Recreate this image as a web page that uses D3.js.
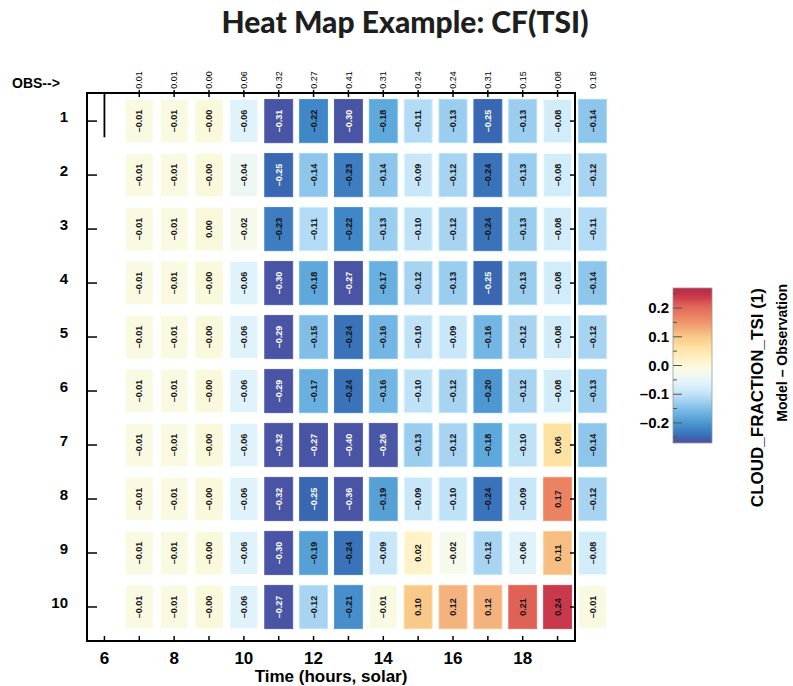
<!DOCTYPE html>
<html>
  <head>
    <meta charset="utf-8">
    <script src="https://cdn.jsdelivr.net/npm/d3@7"></script>
    <style>
      body { margin: 0; background: white; }
      svg { display: block; }
      text { font-family: "Liberation Sans", Arial, sans-serif; }
    </style>
  </head>
  <body>
    <script>
      // hours of the day shown as columns, plus a mean column drawn outside the frame
      const hours = [7, 8, 9, 10, 11, 12, 13, 14, 15, 16, 17, 18, 19]
      const meanHour = 20
      const rows = [1, 2, 3, 4, 5, 6, 7, 8, 9, 10]
      const xTickLabels = [6, 8, 10, 12, 14, 16, 18]
      const legendTicks = [-0.2, -0.1, 0.0, 0.1, 0.2]
      const legendMinorTicks = [-0.25, -0.15, -0.05, 0.05, 0.15, 0.25]

      // observed value per hour, and the mean of them
      const obs = [0.01, 0.01, 0.00, 0.06, 0.32, 0.27, 0.41, 0.31, 0.24, 0.24, 0.31, 0.15, 0.08]
      const obsMean = 0.18

      // model - observation, one list per row (13 hours)
      const diffs = [
        [-0.01, -0.01, -0.00, -0.06, -0.31, -0.22, -0.30, -0.18, -0.11, -0.13, -0.25, -0.13, -0.08],
        [-0.01, -0.01, -0.00, -0.04, -0.25, -0.14, -0.23, -0.14, -0.09, -0.12, -0.24, -0.13, -0.08],
        [-0.01, -0.01, 0.00, -0.02, -0.23, -0.11, -0.22, -0.13, -0.10, -0.12, -0.24, -0.13, -0.08],
        [-0.01, -0.01, -0.00, -0.06, -0.30, -0.18, -0.27, -0.17, -0.12, -0.13, -0.25, -0.13, -0.08],
        [-0.01, -0.01, -0.00, -0.06, -0.29, -0.15, -0.24, -0.16, -0.10, -0.09, -0.16, -0.12, -0.08],
        [-0.01, -0.01, -0.00, -0.06, -0.29, -0.17, -0.24, -0.16, -0.10, -0.12, -0.20, -0.12, -0.08],
        [-0.01, -0.01, -0.00, -0.06, -0.32, -0.27, -0.40, -0.26, -0.13, -0.12, -0.18, -0.10, 0.06],
        [-0.01, -0.01, -0.00, -0.06, -0.32, -0.25, -0.36, -0.19, -0.09, -0.10, -0.24, -0.09, 0.17],
        [-0.01, -0.01, -0.00, -0.06, -0.30, -0.19, -0.24, -0.09, 0.02, -0.02, -0.12, -0.06, 0.11],
        [-0.01, -0.01, -0.00, -0.06, -0.27, -0.12, -0.21, -0.01, 0.10, 0.12, 0.12, 0.21, 0.24]
      ]
      // row means (extra column)
      const rowMeans = [-0.14, -0.12, -0.11, -0.14, -0.12, -0.13, -0.14, -0.12, -0.08, -0.01]

      const W = 793, H = 686
      const svg = d3.select('body').append('svg').attr('width', W).attr('height', H)

      const x = d3.scaleLinear().domain([5.5, 19.5]).range([87, 575])
      const y = d3.scaleLinear().domain([0.48, 10.63]).range([93, 641])
      const cellW = (x(1) - x(0)) * 0.8
      const cellH = (y(1) - y(0)) * 0.8

      const color = d3.scaleLinear()
        .domain([-0.27, -0.26, -0.25, -0.24, -0.22, -0.20, -0.18, -0.16, -0.14, -0.12, -0.10, -0.08,
                 -0.06, -0.04, -0.02, -0.01, 0.00, 0.02, 0.06, 0.10, 0.12, 0.17, 0.21, 0.24, 0.27])
        .range(['#4a54a4', '#4a56a6', '#3a67b2', '#3a73b9', '#3f87c6', '#4f97d0', '#5fa8dc', '#74b6e3',
                '#8ec5eb', '#a8d4f2', '#c0e2f7', '#d3ecfa', '#e1f3fa', '#eef8f3', '#f5faea', '#fafae2',
                '#fbf9dc', '#fff2c9', '#fde2a3', '#f9c98a', '#f4b37e', '#eb8363', '#df6256', '#c9394c',
                '#b82a45'])
        .clamp(true)

      function fmt(v) {
        const neg = v < 0 || Object.is(v, -0)
        return (neg ? '\u2013' : '') + Math.abs(v).toFixed(2)
      }

      // title
      svg.append('text')
        .attr('x', 405).attr('y', 33)
        .attr('text-anchor', 'middle')
        .style('font-family', 'Lato, sans-serif')
        .style('font-weight', 900)
        .style('font-size', '30px')
        .attr('fill', '#1e1e1e')
        .text('Heat Map Example: CF(TSI)')

      // cells
      const cells = []
      rows.forEach((r, i) => {
        hours.forEach((h, j) => cells.push({h, r, v: diffs[i][j]}))
        cells.push({h: meanHour, r, v: rowMeans[i]})
      })

      const g = svg.append('g')
      g.selectAll('rect.cell').data(cells).join('rect')
        .attr('class', 'cell')
        .attr('x', d => x(d.h) - cellW / 2)
        .attr('y', d => y(d.r) - cellH / 2)
        .attr('width', cellW)
        .attr('height', cellH)
        .attr('fill', d => color(d.v))
        .attr('stroke', d => d3.color(color(d.v)).brighter(0.25))
        .attr('stroke-width', 1)

      g.selectAll('text.cell').data(cells).join('text')
        .attr('class', 'cell')
        .attr('transform', d => `translate(${x(d.h)},${y(d.r)}) rotate(-90)`)
        .attr('dy', '0.35em')
        .attr('text-anchor', 'middle')
        .style('font-size', '9px')
        .style('font-weight', 'bold')
        .attr('fill', d => d.v <= -0.25 ? 'white' : '#111')
        .text(d => fmt(d.v))

      // OBS row on top
      const obsData = hours.map((h, j) => ({h, v: obs[j]})).concat([{h: meanHour, v: obsMean}])
      svg.selectAll('text.obs').data(obsData).join('text')
        .attr('class', 'obs')
        .attr('transform', d => `translate(${x(d.h)},80) rotate(-90)`)
        .attr('dy', '0.35em')
        .attr('text-anchor', 'middle')
        .style('font-size', '9px')
        .text(d => fmt(d.v))

      svg.append('text')
        .attr('x', 12).attr('y', 88)
        .style('font-size', '14px')
        .style('font-weight', 'bold')
        .text('OBS-->')

      // frame
      const axisG = svg.append('g').attr('stroke', 'black').attr('fill', 'none')
      axisG.append('path')
        .attr('d', `M${x(5.5)},${y(0.48)}H${x(19.5)}V${y(10.63)}H${x(5.5)}Z`)
        .attr('stroke-width', 2)

      // bottom ticks (inward) at each hour
      const allHours = d3.range(6, 20)
      axisG.selectAll('line.bt').data(allHours).join('line')
        .attr('x1', d => x(d)).attr('x2', d => x(d))
        .attr('y1', y(10.63)).attr('y2', y(10.63) - 5)
        .attr('stroke-width', 1.5)
      // top ticks
      axisG.selectAll('line.tt').data(hours).join('line')
        .attr('x1', d => x(d)).attr('x2', d => x(d))
        .attr('y1', y(0.48) - 3).attr('y2', y(0.48) + 4)
        .attr('stroke-width', 1.5)
      // the long mark at hour 6 along the top
      axisG.append('line')
        .attr('x1', x(6)).attr('x2', x(6))
        .attr('y1', y(0.48)).attr('y2', y(1.3))
        .attr('stroke-width', 1.8)
      // left and right ticks
      axisG.selectAll('line.lt').data(rows).join('line')
        .attr('x1', x(5.5)).attr('x2', x(5.5) + 10)
        .attr('y1', d => y(d)).attr('y2', d => y(d))
        .attr('stroke-width', 1.5)
      axisG.selectAll('line.rt').data(rows).join('line')
        .attr('x1', x(19.5)).attr('x2', x(19.5) - 5)
        .attr('y1', d => y(d)).attr('y2', d => y(d))
        .attr('stroke-width', 1.5)

      svg.selectAll('text.rowlab').data(rows).join('text')
        .attr('class', 'rowlab')
        .attr('x', 68).attr('y', d => y(d) - 4)
        .attr('dy', '0.35em')
        .attr('text-anchor', 'end')
        .style('font-size', '15px')
        .style('font-weight', 'bold')
        .text(d => d)

      svg.selectAll('text.xlab').data(xTickLabels).join('text')
        .attr('class', 'xlab')
        .attr('x', d => x(d)).attr('y', 664)
        .attr('text-anchor', 'middle')
        .style('font-size', '17px')
        .style('font-weight', 'bold')
        .text(d => d)

      svg.append('text')
        .attr('x', (x(5.5) + x(19.5)) / 2).attr('y', 682)
        .attr('text-anchor', 'middle')
        .style('font-size', '17px')
        .style('font-weight', 'bold')
        .text('Time (hours, solar)')

      // colour bar
      const cb = {x: 673, w: 39}
      const cy = d3.scaleLinear().domain([-0.27, 0.27]).range([443, 288])
      const grad = svg.append('defs').append('linearGradient')
        .attr('id', 'cbgrad')
        .attr('x1', 0).attr('y1', 1).attr('x2', 0).attr('y2', 0)
      grad.selectAll('stop').data(d3.range(0, 1.0001, 0.02)).join('stop')
        .attr('offset', d => d)
        .attr('stop-color', d => color(-0.27 + d * 0.54))
      svg.append('rect')
        .attr('x', cb.x).attr('y', cy(0.27))
        .attr('width', cb.w).attr('height', cy(-0.27) - cy(0.27))
        .attr('fill', 'url(#cbgrad)')
        .attr('stroke', '#999').attr('stroke-width', 0.8)

      svg.selectAll('line.cbt').data(legendTicks).join('line')
        .attr('x1', cb.x).attr('x2', cb.x + 9)
        .attr('y1', d => cy(d)).attr('y2', d => cy(d))
        .attr('stroke', '#555').attr('stroke-width', 1)
      svg.selectAll('line.cbm').data(legendMinorTicks).join('line')
        .attr('x1', cb.x).attr('x2', cb.x + 4)
        .attr('y1', d => cy(d)).attr('y2', d => cy(d))
        .attr('stroke', '#555').attr('stroke-width', 1)
      svg.selectAll('text.cbl').data(legendTicks).join('text')
        .attr('x', 669).attr('y', d => cy(d))
        .attr('dy', '0.35em')
        .attr('text-anchor', 'end')
        .style('font-size', '15px')
        .style('font-weight', 'bold')
        .text(d => (d < 0 ? '\u2013' : '') + Math.abs(d).toFixed(1))

      svg.append('text')
        .attr('transform', 'translate(757,288) rotate(-90)')
        .attr('dy', '0.35em')
        .attr('text-anchor', 'end')
        .style('font-size', '17px')
        .style('font-weight', 'bold')
        .text('CLOUD_FRACTION_TSI (1)')
      svg.append('text')
        .attr('transform', 'translate(782,284) rotate(-90)')
        .attr('dy', '0.35em')
        .attr('text-anchor', 'end')
        .style('font-size', '14px')
        .style('font-weight', 'bold')
        .text('Model \u2013 Observation')
    </script>
  </body>
</html>
